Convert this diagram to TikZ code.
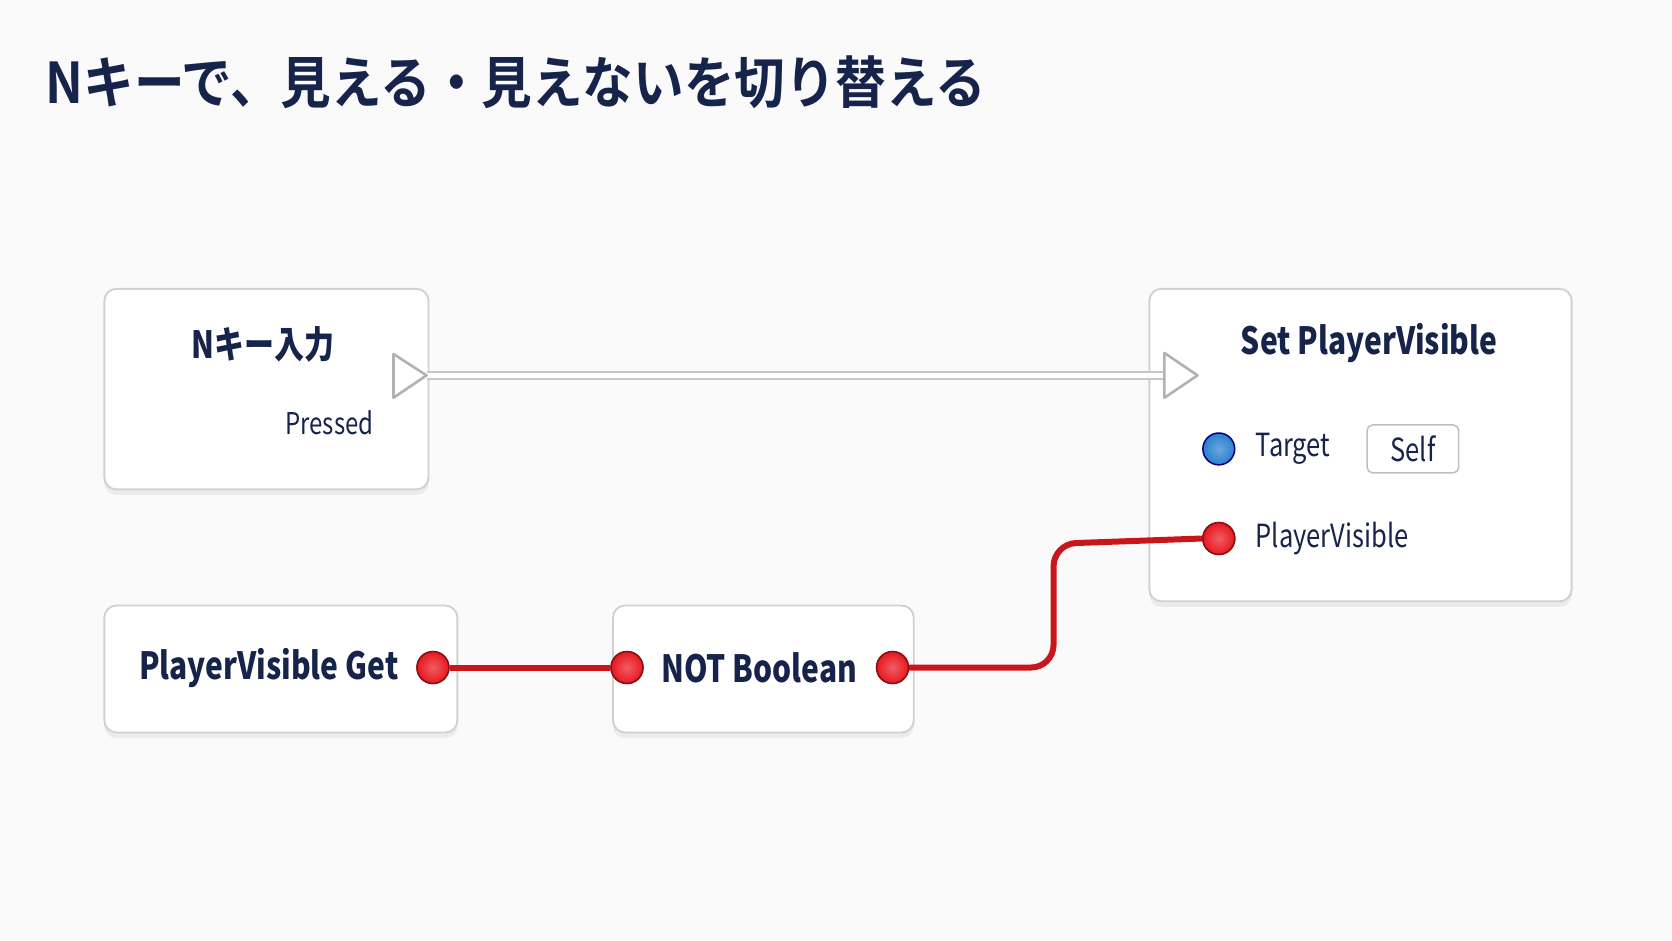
\documentclass[tikz,border=0pt]{standalone}
\usepackage{fontspec}
\setmainfont{Noto Sans CJK JP}[FakeStretch=0.8]
\newfontfamily\cjkb{Noto Sans CJK JP}[BoldFont={* Bold},BoldFeatures={FakeStretch=0.9}]
\usetikzlibrary{shadows}
\definecolor{navy}{HTML}{16234A}
\definecolor{wire}{HTML}{C8161B}
\definecolor{pinred}{HTML}{E81820}
\definecolor{pinblue}{HTML}{2A80D0}
\begin{document}
\begin{tikzpicture}[x=0.1mm,y=-0.1mm,
  card/.style={draw=black!18,line width=0.5pt,fill=white,rounded corners=3.2pt,drop shadow={shadow xshift=0pt,shadow yshift=-1.5pt,opacity=0.12}},
  lbl/.style={text=navy,font=\fontsize{10}{12}\selectfont\bfseries,inner sep=0},
  sub/.style={text=navy,font=\fontsize{8}{10}\selectfont,inner sep=0},
  rpin/.style={circle,draw=wire!70!black,line width=0.4pt,inner color=pinred!70!white,outer color=pinred,minimum size=8.5pt,inner sep=0},
  bpin/.style={circle,draw=blue!50!black,line width=0.4pt,inner color=pinblue!70!white,outer color=pinblue,minimum size=8.5pt,inner sep=0},
  wirest/.style={draw=wire,line width=1.6pt,rounded corners=6pt}]
\fill[black!2] (0,0) rectangle (1568,882);
\useasboundingbox (0,0) rectangle (1568,882);
\node[anchor=base west,text=navy,font=\cjkb\fontsize{15}{18}\selectfont\bfseries,inner sep=0] (title) at (42,97) {Nキーで、見える・見えないを切り替える};
% cards
\node[card,minimum width=304*0.1mm,minimum height=188*0.1mm,anchor=north west] (A) at (97,270) {};
\node[card,minimum width=396*0.1mm,minimum height=293*0.1mm,anchor=north west] (B) at (1077,270) {};
\node[card,minimum width=331*0.1mm,minimum height=119*0.1mm,anchor=north west] (C) at (97,567) {};
\node[card,minimum width=282*0.1mm,minimum height=119*0.1mm,anchor=north west] (D) at (574,567) {};
% texts
\node[lbl] (at) at (247,323) {Nキー入力};
\node[sub,anchor=east] (ap) at (351,396) {Pressed};
\node[lbl] (bt) at (1284,322) {Set PlayerVisible};
\node[lbl] (ct) at (252,626) {PlayerVisible Get};
\node[lbl] (dt) at (712,626) {NOT Boolean};
\node[sub,anchor=west,font=\fontsize{8.5}{10}\selectfont] (tg) at (1177,421) {Target};
\node[draw=black!25,rounded corners=1.5pt,fill=white,minimum width=86*0.1mm,minimum height=45*0.1mm,sub,font=\fontsize{8.5}{10}\selectfont] (self) at (1325,421) {Self};
\node[sub,anchor=west,font=\fontsize{8.5}{10}\selectfont] (pv) at (1177,505) {PlayerVisible};
% exec pins
\coordinate (e1) at (400,352);
\coordinate (e2) at (1092,352);
\draw[line width=2.4pt,black!22] (e1) -- (e2);
\draw[line width=1.2pt,white] (e1) -- (e2);
\draw[fill=white,draw=black!30,line width=0.7pt,line join=round] (369,332) -- (400,352) -- (369,373) -- cycle;
\draw[fill=white,draw=black!30,line width=0.7pt,line join=round] (1092,331) -- (1123,352) -- (1092,373) -- cycle;
% data pins
\node[rpin] (cp) at (406,626) {};
\node[rpin] (dpi) at (588,626) {};
\node[rpin] (dpo) at (837,626) {};
\node[rpin] (bp) at (1143,505) {};
\node[bpin] (bb) at (1143,421) {};
\draw[wirest] (cp.east) -- (dpi.west);
\draw[wirest] (dpo.east) -- (988,626) -- (988,510) -- (bp.west);
\node[rpin] at (cp) {};
\node[rpin] at (dpi) {};
\node[rpin] at (dpo) {};
\node[rpin] at (bp) {};
\end{tikzpicture}
\end{document}
